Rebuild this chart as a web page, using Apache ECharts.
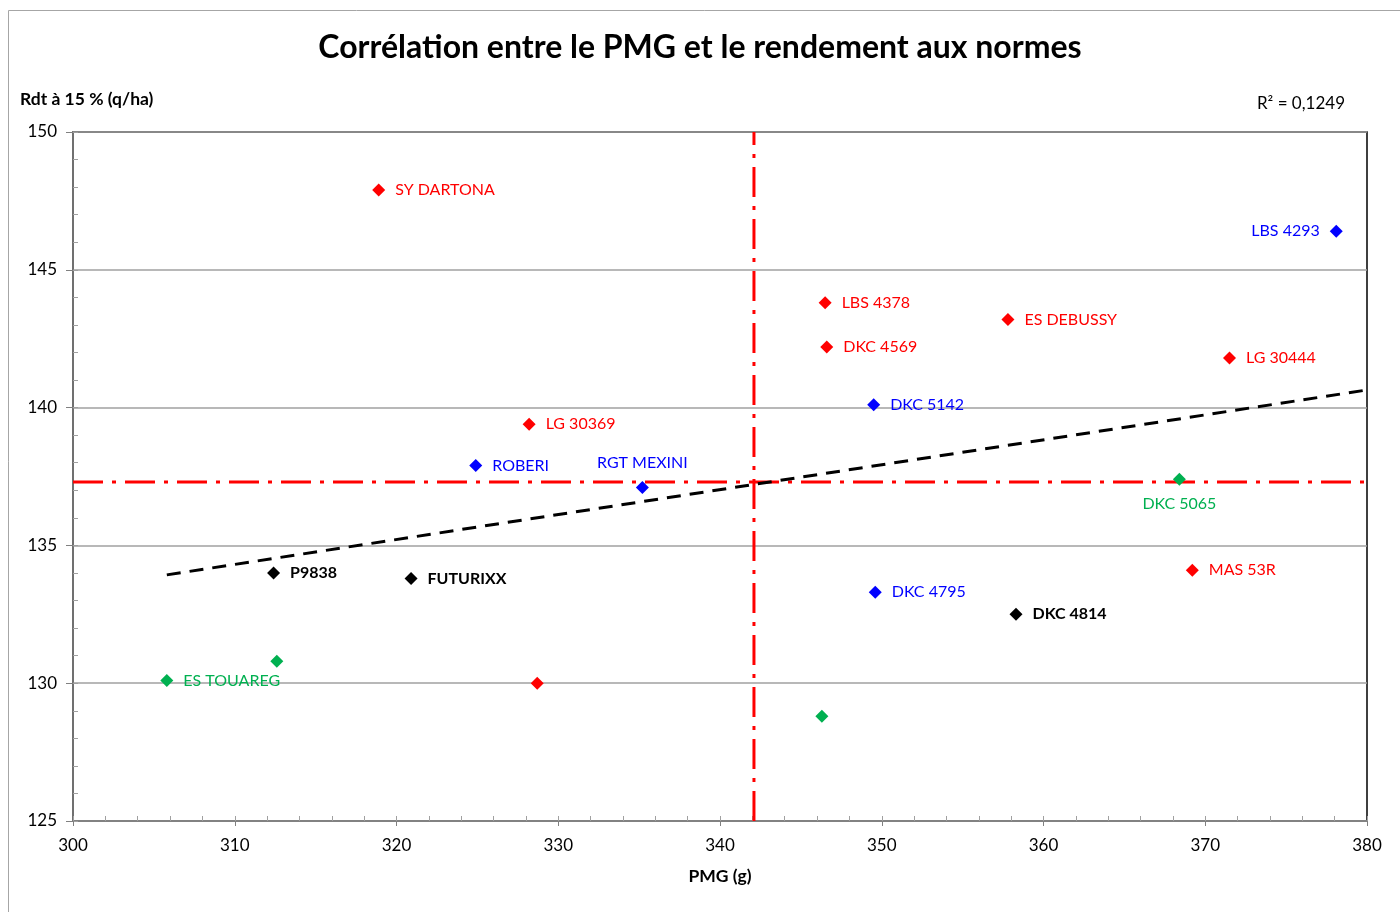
<!DOCTYPE html>
<html>
<head>
<meta charset="utf-8">
<script src="https://cdn.jsdelivr.net/npm/echarts@6/dist/echarts.min.js"></script>
<style>
  html, body { margin: 0; padding: 0; background: #fff; }
  #main { width: 1400px; height: 912px; }
</style>
</head>
<body>
<div id="main"></div>
<script>
// valeurs
const redNames = ['SY DARTONA', 'LBS 4378', 'ES DEBUSSY', 'DKC 4569', 'LG 30444', 'LG 30369', 'MAS 53R', '']
const redPMG = [318.9, 346.5, 357.8, 346.6, 371.5, 328.2, 369.2, 328.7]
const redRdt = [147.9, 143.8, 143.2, 142.2, 141.8, 139.4, 134.1, 130.0]

const blueNames = ['LBS 4293', 'DKC 5142', 'ROBERI', 'RGT MEXINI', 'DKC 4795']
const bluePMG = [378.1, 349.5, 324.9, 335.2, 349.6]
const blueRdt = [146.4, 140.1, 137.9, 137.1, 133.3]

const blackNames = ['P9838', 'FUTURIXX', 'DKC 4814']
const blackPMG = [312.4, 320.9, 358.3]
const blackRdt = [134.0, 133.8, 132.5]

const greenNames = ['ES TOUAREG', '', '', 'DKC 5065']
const greenPMG = [305.8, 312.6, 346.3, 368.4]
const greenRdt = [130.1, 130.8, 128.8, 137.4]

// moyennes et droite de tendance
const meanPMG = 342.1
const meanRdt = 137.3
const trendPMG = [305.8, 380]
const trendRdt = [133.93, 140.64]

const xTicks = [300, 310, 320, 330, 340, 350, 360, 370, 380]
const yTicks = [125, 130, 135, 140, 145, 150]

const labelPos = { 'LBS 4293': 'left', 'RGT MEXINI': 'top', 'DKC 5065': 'bottom' }
const FONT = 'Lato'

const makeSeries = (names, xs, ys, color, bold) => ({
    type: 'scatter',
    symbol: 'diamond',
    symbolSize: 13,
    itemStyle: { color: color, opacity: 1 },
    z: 5,
    data: xs.map((x, i) => ({
        value: [x, ys[i]],
        name: names[i],
        label: { position: labelPos[names[i]] || 'right' }
    })),
    label: {
        show: true,
        distance: 10,
        formatter: p => p.name,
        color: color,
        fontFamily: FONT,
        fontSize: 16,
        fontWeight: bold ? 'bold' : 'normal'
    }
})

let myChart = echarts.init(document.getElementById('main'))
const option = {
    animation: false,
    textStyle: { fontFamily: FONT },
    title: {
        text: 'Corrélation entre le PMG et le rendement aux normes',
        left: 'center',
        top: 27,
        textStyle: { fontFamily: FONT, fontSize: 32, fontWeight: 'bold', color: '#000' }
    },
    graphic: [
        {
            type: 'rect',
            shape: { x: 8.5, y: 10.5, width: 1400, height: 920 },
            style: { fill: 'none', stroke: '#a6a6a6', lineWidth: 1 }
        },
        {
            type: 'text', left: 20, top: 90,
            style: { text: 'Rdt à 15 % (q/ha)', font: 'bold 17.5px Lato', fill: '#000' }
        },
        {
            type: 'text', right: 55, top: 95,
            style: { text: 'R² = 0,1249', font: '17px Lato', fill: '#000' }
        }
    ],
    grid: {
        left: 73, right: 33, top: 132, bottom: 91,
        show: true, borderColor: '#000', borderWidth: 1.5
    },
    xAxis: [
        {
            type: 'value', min: xTicks[0], max: xTicks[xTicks.length - 1], interval: 10,
            name: 'PMG (g)', nameLocation: 'middle', nameGap: 46,
            nameTextStyle: { fontFamily: FONT, fontSize: 17.5, fontWeight: 'bold', color: '#000' },
            axisLine: { lineStyle: { color: '#808080', width: 1.5 } },
            axisTick: { length: 5, lineStyle: { color: '#808080' } },
            axisLabel: { fontFamily: FONT, fontSize: 17, color: '#000', margin: 16 },
            splitLine: { show: false }
        },
        {
            type: 'value', min: xTicks[0], max: xTicks[xTicks.length - 1], interval: 2,
            position: 'bottom',
            axisLine: { show: false },
            axisTick: { inside: true, length: 5, lineStyle: { color: '#a0a0a0' } },
            axisLabel: { show: false },
            splitLine: { show: false }
        }
    ],
    yAxis: [
        {
            type: 'value', min: yTicks[0], max: yTicks[yTicks.length - 1], interval: 5,
            axisLine: { show: true, lineStyle: { color: '#808080', width: 1.5 } },
            axisTick: { show: true, length: 7, lineStyle: { color: '#808080' } },
            axisLabel: { fontFamily: FONT, fontSize: 17, color: '#000', margin: 16 },
            splitLine: { lineStyle: { color: '#a0a0a0', width: 1.5 } }
        },
        {
            type: 'value', min: yTicks[0], max: yTicks[yTicks.length - 1], interval: 1,
            position: 'left',
            axisLine: { show: false },
            axisTick: { show: true, inside: true, length: 5, lineStyle: { color: '#a0a0a0' } },
            axisLabel: { show: false },
            splitLine: { show: false }
        }
    ],
    series: [
        {
            type: 'line',
            data: [[meanPMG, yTicks[0]], [meanPMG, yTicks[yTicks.length - 1]]],
            symbol: 'none',
            lineStyle: { color: '#ff0000', width: 3, type: [30, 9, 4, 9] },
            z: 3
        },
        {
            type: 'line',
            data: [[xTicks[0], meanRdt], [380.7, meanRdt]],
            symbol: 'none',
            clip: false,
            lineStyle: { color: '#ff0000', width: 3, type: [30, 9, 4, 9] },
            z: 3
        },
        {
            type: 'line',
            data: trendPMG.map((x, i) => [x, trendRdt[i]]),
            symbol: 'none',
            lineStyle: { color: '#000', width: 3, type: [14, 9] },
            z: 4
        },
        makeSeries(redNames, redPMG, redRdt, '#ff0000', false),
        makeSeries(blueNames, bluePMG, blueRdt, '#0000ff', false),
        makeSeries(blackNames, blackPMG, blackRdt, '#000000', true),
        makeSeries(greenNames, greenPMG, greenRdt, '#00b050', false)
    ]
}
myChart.setOption(option)
</script>
</body>
</html>
